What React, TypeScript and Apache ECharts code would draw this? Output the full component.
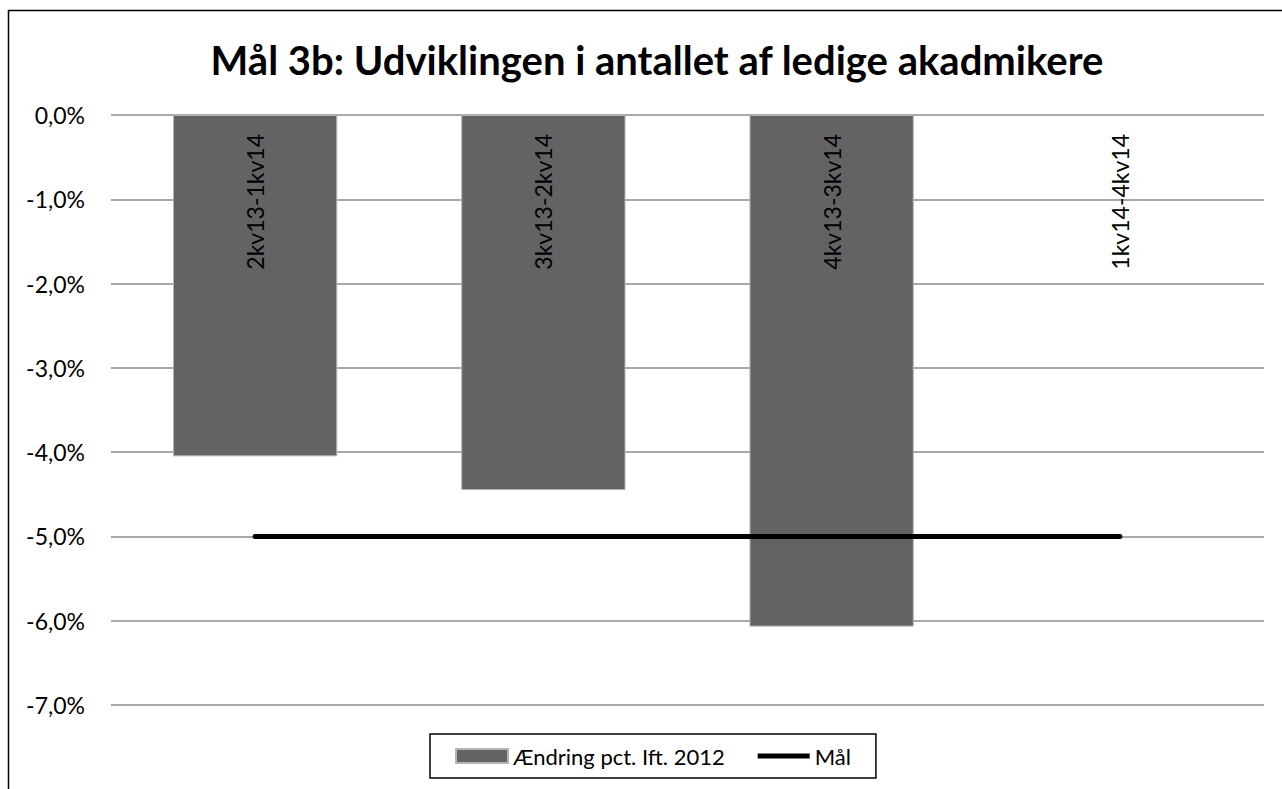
import React, { useEffect, useRef } from "react";
import * as echarts from "echarts";

const categories = ["2kv13-1kv14", "3kv13-2kv14", "4kv13-3kv14", "1kv14-4kv14"];
const changeValues: (number | null)[] = [-4.05, -4.45, -6.07, null];
const goalValues = [-5, -5, -5, -5];
const titleText = "Mål 3b: Udviklingen i antallet af ledige akadmikere";
const seriesNames = ["Ændring pct. Ift. 2012", "Mål"];

const FONT = "Lato, 'Open Sans', sans-serif";

export default function App() {
  const ref = useRef<HTMLDivElement>(null);
  useEffect(() => {
    document.body.style.margin = "0";
    const chart = echarts.init(ref.current!, undefined, { renderer: "svg" });
    chart.setOption({
      animation: false,
      backgroundColor: "#ffffff",
      textStyle: { fontFamily: FONT },
      title: {
        text: titleText,
        left: 652,
        textAlign: "center",
        top: 35,
        textStyle: { fontSize: 40, fontWeight: "bold", color: "#000", fontFamily: FONT },
      },
      graphic: [
        {
          type: "rect",
          shape: { x: 8.5, y: 10.5, width: 1400, height: 900 },
          style: { fill: "none", stroke: "#000", lineWidth: 1.5 },
          silent: true,
        },
      ],
      legend: {
        left: 430,
        top: 734,
        padding: [11, 25, 11, 25],
        borderColor: "#000",
        borderWidth: 1.5,
        itemGap: 33,
        itemWidth: 52,
        itemHeight: 14,
        textStyle: { fontSize: 22, color: "#000", fontFamily: FONT },
        data: [
          { name: seriesNames[0], icon: "rect" },
          { name: seriesNames[1], icon: "path://M0,0 h50 v5 h-50 z", itemStyle: { color: "#000" } },
        ],
      },
      grid: { left: 111, right: 18, top: 115, bottom: 84, containLabel: false },
      xAxis: {
        type: "category",
        data: categories,
        position: "top",
        axisLine: { show: false },
        axisTick: { show: false },
        axisLabel: {
          inside: true,
          rotate: 90,
          margin: 19,
          fontSize: 23,
          color: "#000",
          fontFamily: FONT,
        },
        z: 10,
      },
      yAxis: {
        type: "value",
        min: -7,
        max: 0,
        interval: 1,
        axisLine: { show: false },
        axisTick: { show: false },
        axisLabel: {
          margin: 26,
          fontSize: 23,
          color: "#000",
          fontFamily: FONT,
          formatter: (v: number) => v.toFixed(1).replace(".", ",") + "%",
        },
        splitLine: { lineStyle: { color: "#8c8c8c", width: 1.5 } },
      },
      series: [
        {
          name: seriesNames[0],
          type: "bar",
          data: changeValues,
          barWidth: "57%",
          itemStyle: { color: "#636363", borderColor: "#b5b5b5", borderWidth: 1 },
        },
        {
          name: seriesNames[1],
          type: "line",
          data: goalValues,
          symbol: "none",
          showSymbol: false,
          lineStyle: { color: "#000", width: 5, cap: "round" },
          itemStyle: { color: "#000" },
          z: 5,
        },
      ],
    });
    return () => chart.dispose();
  }, []);
  return <div ref={ref} style={{ width: 1282, height: 789 }} />;
}
